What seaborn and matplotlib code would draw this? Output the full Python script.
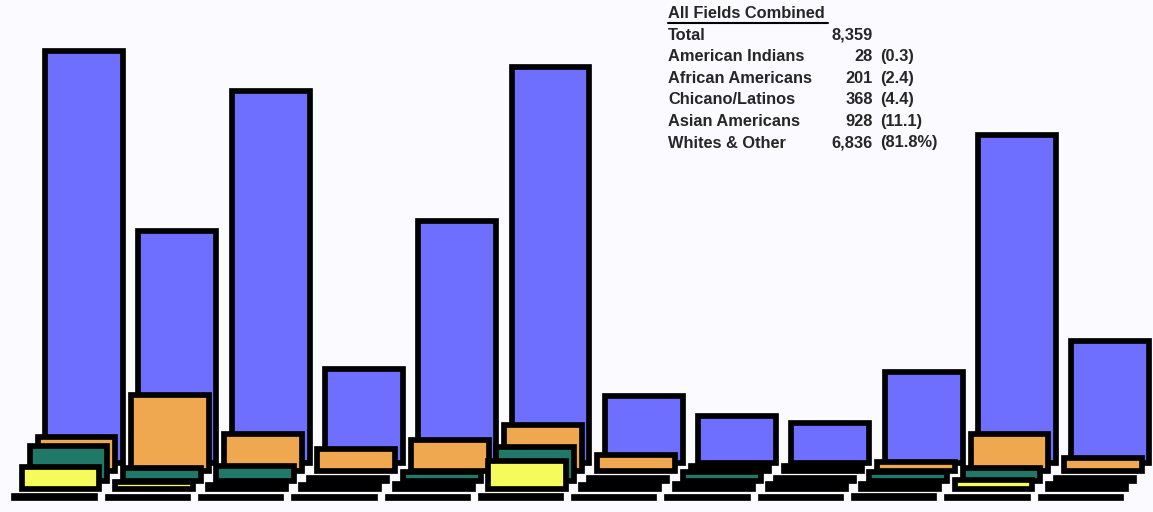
import matplotlib
matplotlib.use('Agg')

import matplotlib.pyplot as plt
import seaborn as sns
import pandas as pd
import numpy as np

# twelve fields, five groups drawn back (whites) to front (american indians)
fields = np.arange(12)
whites = [1154, 650, 1042, 263, 678, 1109, 188, 132, 112, 255, 918, 342]
asian = [95, 213, 104, 62, 87, 129, 45, 14, 14, 25, 104, 36]
chicano = [98, 34, 42, 8, 25, 95, 8, 24, 8, 25, 34, 8]
african = [59, 17, 10, 10, 12, 76, 10, 12, 12, 12, 25, 12]
am_indian = [3, 2, 2, 2, 2, 4, 2, 2, 2, 3, 2, 2]

rows = [whites, asian, chicano, african, am_indian]
colors = ['#6e6eff', '#f0a850', '#207868', '#f6fb5c', '#000000']

legend_names = ['Total', 'American Indians', 'African Americans',
                'Chicano/Latinos', 'Asian Americans', 'Whites & Other']
legend_counts = ['8,359', '28', '201', '368', '928', '6,836']
legend_pcts = ['', '(0.3)', '(2.4)', '(4.4)', '(11.1)', '(81.8%)']

sns.set_style('white')
plt.rcParams['font.family'] = ['Liberation Sans', 'DejaVu Sans']

fig = plt.figure(figsize=(11.53, 5.12), dpi=100)
fig.patch.set_facecolor('#fafaff')
ax = fig.add_axes([0, 0, 1, 1])
ax.set_facecolor('#fafaff')

px_y = 2.8      # counts per pixel
pitch = 93.3    # pixels per field
# depth layout of each row, in pixels: baseline row and left shift
base_px = [463, 471, 480.5, 488.5, 497.5]
shift_px = [0, -7.5, -15.5, -23.5, -29.5]
widths = [0.835, 0.835, 0.835, 0.835, 0.86]

for r, (vals, col) in enumerate(zip(rows, colors)):
    df = pd.DataFrame({'pos': fields + shift_px[r] / pitch, 'n': vals})
    sns.barplot(data=df, x='pos', y='n', native_scale=True, width=widths[r],
                color=col, saturation=1, errorbar=None,
                bottom=(base_px[0] - base_px[r]) * px_y,
                edgecolor='black', linewidth=4.1, zorder=2 + r, ax=ax)

ax.set_xlim(-84 / pitch, (1153 - 84) / pitch)
ax.set_ylim(-(512 - base_px[0]) * px_y, base_px[0] * px_y)
ax.set_axis_off()

# summary block
fs = 11.8
fig.text(668 / 1153, 1 - 14 / 512, 'All Fields Combined', fontsize=fs,
         fontweight='bold', va='center', ha='left')
fig.add_artist(plt.Line2D([668 / 1153, 828 / 1153], [1 - 22.5 / 512] * 2,
                          color='black', lw=1.5))
for i, (nm, c, p) in enumerate(zip(legend_names, legend_counts, legend_pcts)):
    y = 1 - (35 + i * 21.6) / 512
    fig.text(668 / 1153, y, nm, fontsize=fs, fontweight='bold', va='center', ha='left')
    fig.text(873 / 1153, y, c, fontsize=fs, fontweight='bold', va='center', ha='right')
    fig.text(880 / 1153, y, p, fontsize=fs, fontweight='bold', va='center', ha='left')

fig.savefig('out.png', dpi=100, facecolor=fig.get_facecolor())
